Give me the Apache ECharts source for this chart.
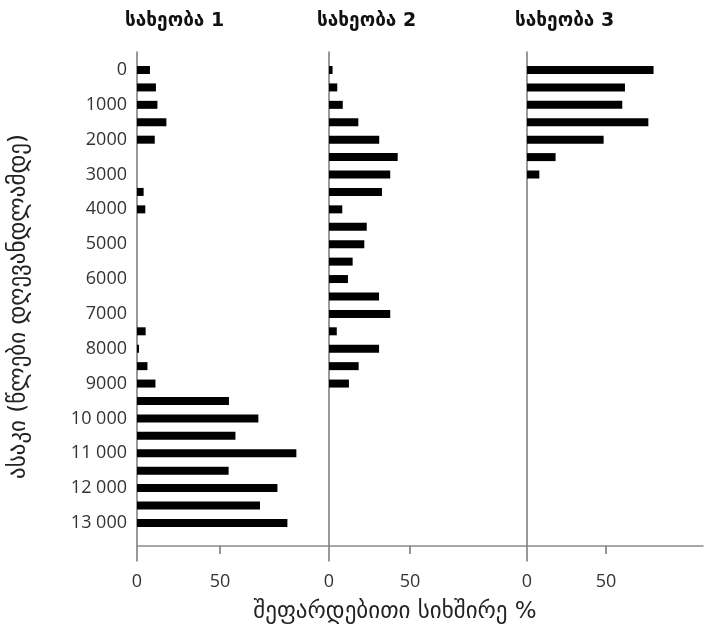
<!DOCTYPE html>
<html>
<head>
<meta charset="utf-8">
<script src="https://cdn.jsdelivr.net/npm/echarts@6/dist/echarts.min.js"></script>
<style>
html,body{margin:0;padding:0;background:#fff;}
#chart{width:704px;height:635px;}
</style>
</head>
<body>
<div id="chart"></div>
<script>
// Age categories (years before present)
const ages = [0, 500, 1000, 1500, 2000, 2500, 3000, 3500, 4000, 4500, 5000, 5500, 6000, 6500,
  7000, 7500, 8000, 8500, 9000, 9500, 10000, 10500, 11000, 11500, 12000, 12500, 13000];
// Relative frequency (%) per species
const species1 = [7.8, 11.4, 12.3, 17.7, 10.7, 0, 0, 4.0, 5.0, 0, 0, 0, 0, 0,
  0, 5.2, 1.2, 6.3, 11.1, 55.4, 73.1, 59.3, 96.0, 55.2, 84.6, 74.1, 90.6];
const species2 = [2.2, 5.1, 8.5, 18.1, 31.0, 42.4, 37.8, 32.7, 8.2, 23.3, 21.8, 14.6, 11.7, 30.9,
  37.8, 4.8, 30.9, 18.3, 12.3, 0, 0, 0, 0, 0, 0, 0, 0];
const species3 = [80.1, 62.0, 60.3, 76.8, 48.5, 18.1, 7.8, 0, 0, 0, 0, 0, 0, 0,
  0, 0, 0, 0, 0, 0, 0, 0, 0, 0, 0, 0, 0];
const panelTitles = ['სახეობა 1', 'სახეობა 2', 'სახეობა 3'];
const xTickValues = [0, 50];
const xAxisTitle = 'შეფარდებითი სიხშირე %';
const yAxisTitle = 'ასაკი (წლები დღევანდლამდე)';

const seriesData = [species1, species2, species3];
// layout of the three panels
const panels = [
  {left: 137, width: 192, max: 192 / 1.66},
  {left: 329, width: 198, max: 198 / 1.62},
  {left: 527, width: 176, max: 176 / 1.58}
];
const frameTop = 52, frameBottomAxis = 546, frameExt = 15;
const step = 17.42;
const dataTop = 70 - step / 2;
const dataHeight = step * ages.length;

const geoFont = 'DejaVu Sans';
const numFont = 'Open Sans';

function ageLabel(v) {
  const n = Number(v);
  if (n % 1000 !== 0) return '';
  if (n >= 10000) return String(Math.floor(n / 1000)) + ' ' + String(n % 1000).padStart(3, '0');
  return String(n);
}

const grids = [], xAxes = [], yAxes = [], series = [], titles = [];
panels.forEach((p, i) => {
  // frame grid (axis lines, x ticks & labels)
  grids.push({left: p.left, width: p.width, top: frameTop,
    height: frameBottomAxis - frameTop + frameExt, containLabel: false});
  // data grid (bars)
  grids.push({left: p.left, width: p.width, top: dataTop, height: dataHeight, containLabel: false});
  const fg = i * 2, dg = i * 2 + 1;
  xAxes.push({
    type: 'value', gridIndex: fg, min: 0, max: p.max,
    axisLine: {show: true, onZero: true, lineStyle: {color: '#8a8a8a', width: 1.5}},
    axisTick: {show: true, customValues: [50], length: 8, lineStyle: {color: '#777', width: 1.5}},
    axisLabel: {show: true, customValues: xTickValues, margin: 12, fontSize: 18,
      fontFamily: numFont, color: '#333'},
    splitLine: {show: false}
  });
  yAxes.push({
    type: 'value', gridIndex: fg, min: -frameExt, max: frameBottomAxis - frameTop,
    axisLine: {show: true, onZero: false, lineStyle: {color: '#777', width: 1.5}},
    axisTick: {show: false}, axisLabel: {show: false}, splitLine: {show: false},
    name: i === 0 ? yAxisTitle : '', nameLocation: 'middle', nameGap: 106, nameRotate: 90,
    nameTextStyle: {fontFamily: geoFont, fontSize: 23, color: '#222'}
  });
  xAxes.push({type: 'value', gridIndex: dg, min: 0, max: p.max, show: false});
  yAxes.push({
    type: 'category', gridIndex: dg, inverse: true, data: ages, boundaryGap: true,
    axisLine: {show: false}, axisTick: {show: false}, splitLine: {show: false},
    axisLabel: {show: i === 0, interval: 0, margin: 10, fontSize: 18, fontFamily: numFont,
      color: '#333', formatter: ageLabel}
  });
  series.push({
    type: 'bar', xAxisIndex: xAxes.length - 1, yAxisIndex: yAxes.length - 1,
    data: seriesData[i].map(v => v === 0 ? '-' : v),
    barWidth: 8, itemStyle: {color: '#000'}, silent: true, animation: false
  });
  titles.push({text: panelTitles[i], left: p.left - 17, top: 7,
    textStyle: {fontFamily: geoFont, fontSize: 19, fontWeight: 'bold', color: '#111'}});
});
titles.push({text: xAxisTitle, left: 390, top: 596, textAlign: 'center',
  textStyle: {fontFamily: geoFont, fontSize: 23, fontWeight: 'normal', color: '#222'}});

const chart = echarts.init(document.getElementById('chart'), null, {renderer: 'canvas'});
chart.setOption({
  animation: false,
  backgroundColor: '#fff',
  title: titles,
  grid: grids,
  xAxis: xAxes,
  yAxis: yAxes,
  series: series
});
</script>
</body>
</html>
